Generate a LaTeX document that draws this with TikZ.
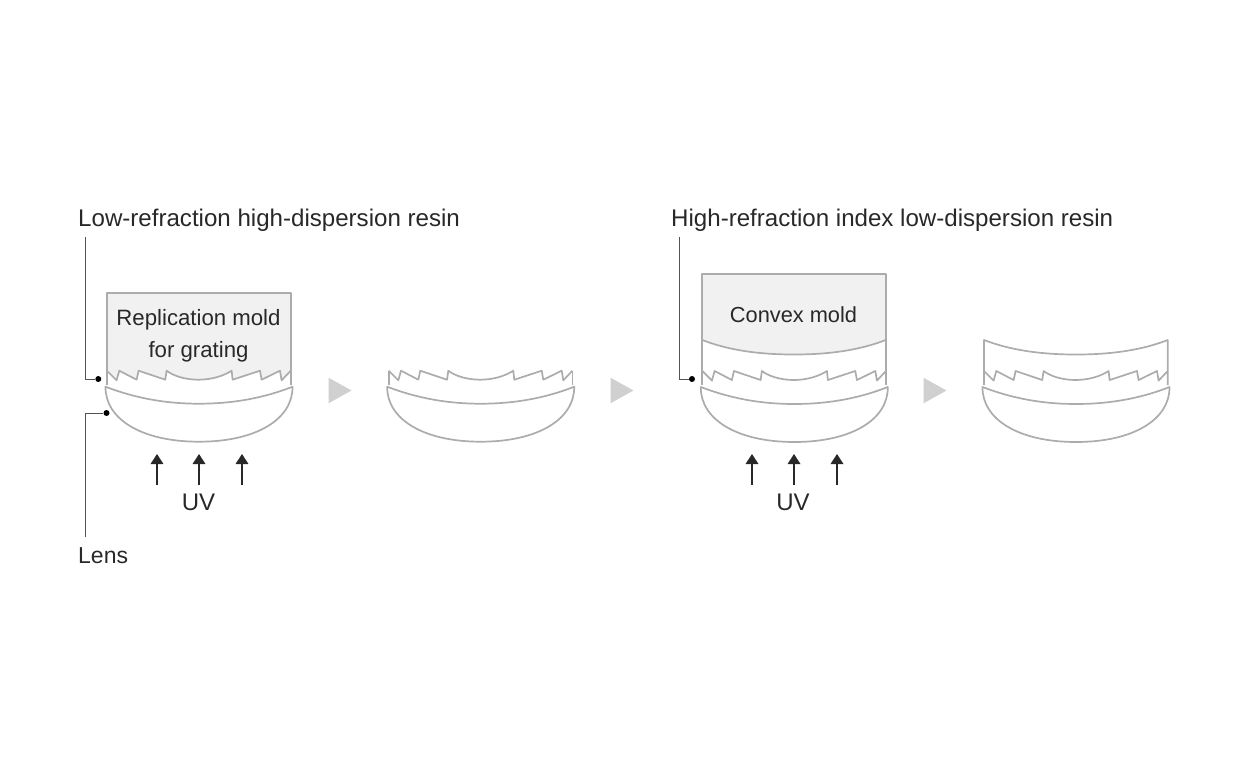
\documentclass[tikz,border=0pt]{standalone}
\usepackage{fontspec}
\setmainfont{Liberation Sans}
\usetikzlibrary{shapes.geometric, arrows.meta, positioning, calc}
\definecolor{linegray}{RGB}{172, 172, 172}
\definecolor{moldfill}{RGB}{241, 241, 241}
\definecolor{stepgray}{RGB}{208, 208, 208}
\definecolor{textdark}{RGB}{40, 40, 40}
% lens body, origin at the left end of the mold
\newcommand{\lensbody}{
    (-1.5,16) .. controls (30,28) and (60,33) .. (92,33) .. controls (124,33) and (155,28) .. (185.5,16)
    .. controls (186,48) and (150,71) .. (92,71) .. controls (34,71) and (-2,48) .. (-1.5,16) -- cycle
}
% saw teeth of the grating, left to right
\newcommand{\gratingline}{
    (0,0) -- (9.6,9.6) -- (12.3,0) -- (29.6,9) -- (31.6,0) -- (58.3,9) -- (59.6,0)
    .. controls (66,5) and (78,9) .. (91.5,9) .. controls (105,9) and (117,5) .. (124.6,0)
    -- (125.6,9) -- (153,0) -- (154.6,9) -- (173,0) -- (174.6,9.6) -- (183.7,0)
}
\begin{document}
\begin{tikzpicture}[
    x=1pt, y=-1pt,
    font=\fontsize{22.5}{27}\selectfont,
    % Styles
    shapeline/.style={
        draw=linegray,
        line width=1.7pt,
        line join=round
    },
    leaderline/.style={
        draw=textdark!80,
        line width=0.9pt
    },
    leaderdot/.style={
        circle,
        fill=black,
        inner sep=0pt,
        minimum size=6pt
    },
    uvarrow/.style={
        draw=textdark,
        line width=1.8pt,
        -{Triangle[length=10pt,width=12.5pt]}
    },
    stepmark/.style={
        isosceles triangle,
        isosceles triangle apex angle=60,
        isosceles triangle stretches,
        fill=stepgray,
        inner sep=0pt,
        minimum height=23pt,
        minimum width=25.6pt,
        anchor=west
    },
    labeltext/.style={
        text=textdark,
        inner sep=0pt
    },
    headtext/.style={
        labeltext,
        font=\fontsize{24.1}{29}\selectfont,
        anchor=west
    }
]
\useasboundingbox (0,0) rectangle (1248,780);

% --- Step 1: replication mold ---
\path[fill=moldfill] (107,293) rectangle (290.7,382);
\begin{scope}[shift={(107,370.7)}]
    \path[fill=white] \gratingline -- (183.7,16) -- (0,16) -- cycle;
    \draw[shapeline] \gratingline;
    \draw[shapeline] (0,14) -- (0,-78) -- (183.7,-78) -- (183.7,14);
    \draw[shapeline, fill=white] \lensbody;
\end{scope}
\node (mold1) [labeltext, align=center, font=\fontsize{22.2}{27}\selectfont] at (198.5,336) {Replication mold\\[4.5pt]for grating};

% --- Step 2: grating only ---
\begin{scope}[shift={(388.7,370.7)}]
    \draw[shapeline] \gratingline;
    \draw[shapeline] (0,0) -- (0,14) (183.7,0) -- (183.7,14);
    \draw[shapeline, fill=white] \lensbody;
\end{scope}

% --- Step 3: convex mold ---
\path[fill=moldfill] (702.3,273.7) -- (885.7,273.7) -- (885.7,340)
    .. controls (860,350) and (830,354.5) .. (794,354.5) .. controls (758,354.5) and (728,350) .. (702.3,340) -- cycle;
\draw[shapeline] (702.3,340) .. controls (728,350) and (758,354.5) .. (794,354.5) .. controls (830,354.5) and (860,350) .. (885.7,340);
\draw[shapeline] (702.3,385) -- (702.3,273.7) -- (885.7,273.7) -- (885.7,385);
\begin{scope}[shift={(702.3,371)}]
    \draw[shapeline] \gratingline;
    \draw[shapeline, fill=white] \lensbody;
\end{scope}
\node (mold2) [labeltext, font=\fontsize{21.8}{27}\selectfont] at (793.5,315) {Convex mold};

% --- Step 4: finished lens ---
\draw[shapeline] (984,385) -- (984,340) .. controls (1010,350) and (1040,354.5) .. (1076,354.5)
    .. controls (1112,354.5) and (1142,350) .. (1167.7,340) -- (1167.7,385);
\begin{scope}[shift={(984,371)}]
    \draw[shapeline] \gratingline;
    \draw[shapeline, fill=white] \lensbody;
\end{scope}

% --- Step marks ---
\node (next1) [stepmark] at (328.3,390.5) {};
\node (next2) [stepmark] at (610.3,390.5) {};
\node (next3) [stepmark] at (923.3,390.5) {};

% --- Labels ---
\node (lowresin) [headtext] at (78,220.5) {Low-refraction high-dispersion resin};
\node (highresin) [headtext] at (671,220.5) {High-refraction index low-dispersion resin};
\node (lens) [labeltext, anchor=west, font=\fontsize{23}{27}\selectfont] at (78,556) {Lens};
\node (uv1) [labeltext, font=\fontsize{24}{29}\selectfont] at (198.5,502.5) {UV};
\node (uv2) [labeltext, font=\fontsize{24}{29}\selectfont] at (793,502.5) {UV};

% --- Leader lines ---
\node (dotlow) [leaderdot] at (98.3,379) {};
\node (dotlens) [leaderdot] at (106.5,413) {};
\node (dothigh) [leaderdot] at (692,379) {};
\coordinate (toplow) at (85.5,237);
\coordinate (toplens) at (85.5,537);
\coordinate (tophigh) at (679.5,237);
\draw [leaderline] (toplow) |- (dotlow);
\draw [leaderline] (toplens) |- (dotlens);
\draw [leaderline] (tophigh) |- (dothigh);

% --- UV arrows ---
\coordinate (uvfoot1) at (157,484.5);
\coordinate (uvfoot2) at (199,484.5);
\coordinate (uvfoot3) at (242,484.5);
\coordinate (uvfoot4) at (752,484.5);
\coordinate (uvfoot5) at (794,484.5);
\coordinate (uvfoot6) at (837,484.5);
\coordinate (uvtip1) at (157,454);
\coordinate (uvtip2) at (199,454);
\coordinate (uvtip3) at (242,454);
\coordinate (uvtip4) at (752,454);
\coordinate (uvtip5) at (794,454);
\coordinate (uvtip6) at (837,454);
\draw [uvarrow] (uvfoot1) -- (uvtip1);
\draw [uvarrow] (uvfoot2) -- (uvtip2);
\draw [uvarrow] (uvfoot3) -- (uvtip3);
\draw [uvarrow] (uvfoot4) -- (uvtip4);
\draw [uvarrow] (uvfoot5) -- (uvtip5);
\draw [uvarrow] (uvfoot6) -- (uvtip6);

\end{tikzpicture}
\end{document}
